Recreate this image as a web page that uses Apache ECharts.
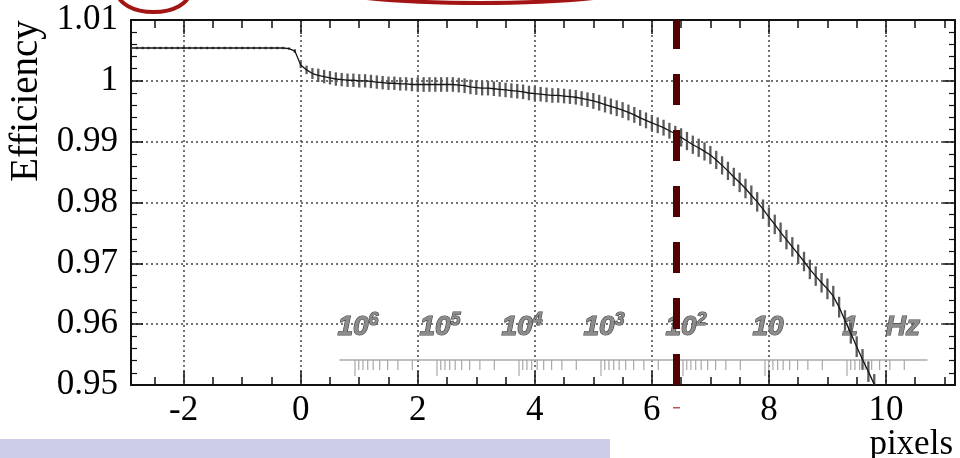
<!DOCTYPE html>
<html><head><meta charset="utf-8">
<script src="https://cdn.jsdelivr.net/npm/echarts@6/dist/echarts.min.js"></script>
<style>html,body{margin:0;padding:0;background:#fff}#c{width:960px;height:458px}</style>
</head><body><div id="c"></div>
<script>
// ---- data ----
const xs = [-2.9,-2.8,-2.7,-2.6,-2.5,-2.4,-2.3,-2.2,-2.1,-2.0,-1.9,-1.8,-1.7,-1.6,-1.5,-1.4,-1.3,-1.2,-1.1,-1.0,-0.9,-0.8,-0.7,-0.6,-0.5,-0.4,-0.3,-0.2,-0.1,
0.0,0.1,0.2,0.3,0.4,0.5,0.6,0.7,0.8,0.9,1.0,1.1,1.2,1.3,1.4,1.5,1.6,1.7,1.8,1.9,
2.0,2.1,2.2,2.3,2.4,2.5,2.6,2.7,2.8,2.9,3.0,3.1,3.2,3.3,3.4,3.5,3.6,3.7,3.8,3.9,
4.0,4.1,4.2,4.3,4.4,4.5,4.6,4.7,4.8,4.9,5.0,5.1,5.2,5.3,5.4,5.5,5.6,5.7,5.8,5.9,
6.0,6.1,6.2,6.3,6.4,6.5,6.6,6.7,6.8,6.9,7.0,7.1,7.2,7.3,7.4,7.5,7.6,7.7,7.8,7.9,
8.0,8.1,8.2,8.3,8.4,8.5,8.6,8.7,8.8,8.9,9.0,9.1,9.2,9.3,9.4,9.5,9.6,9.7,9.8,9.9];
const eff = [1.0054,1.0054,1.0054,1.0054,1.0054,1.0054,1.0054,1.0054,1.0054,1.0054,1.0054,1.0054,1.0054,1.0054,1.0054,1.0054,1.0054,1.0054,1.0054,1.0054,1.0054,1.0054,1.0054,1.0054,1.0054,1.0054,1.0054,1.0053,1.0049,
1.0026,1.0018,1.0012,1.0009,1.0007,1.0005,1.0003,1.0002,1.0001,1.0001,1.0000,1.0000,0.9999,0.9998,0.9997,0.9996,0.9996,0.9995,0.9995,0.9994,
0.9994,0.9994,0.9994,0.9994,0.9994,0.9994,0.9994,0.9993,0.9992,0.9990,0.9989,0.9988,0.9988,0.9987,0.9986,0.9985,0.9984,0.9983,0.9982,0.9980,
0.9979,0.9978,0.9977,0.9976,0.9976,0.9975,0.9974,0.9973,0.9971,0.9969,0.9967,0.9964,0.9961,0.9958,0.9955,0.9952,0.9948,0.9944,0.9939,0.9935,
0.9931,0.9927,0.9923,0.9918,0.9913,0.9907,0.9901,0.9895,0.9890,0.9884,0.9878,0.9870,0.9861,0.9852,0.9842,0.9833,0.9823,0.9812,0.9801,0.9789,
0.9776,0.9764,0.9751,0.9739,0.9727,0.9715,0.9703,0.9690,0.9679,0.9668,0.9658,0.9646,0.9628,0.9606,0.9585,0.9563,0.9542,0.9522,0.9501,0.9480];
const err = [0.0002,0.0002,0.0002,0.0002,0.0002,0.0002,0.0002,0.0002,0.0002,0.0002,0.0002,0.0002,0.0002,0.0002,0.0002,0.0002,0.0002,0.0002,0.0002,0.0002,0.0002,0.0002,0.0002,0.0002,0.0002,0.0002,0.0002,0.0002,0.0003,
0.0005,0.0007,0.0009,0.0011,0.0011,0.0011,0.0011,0.0011,0.0011,0.0011,0.0011,0.0011,0.0011,0.0011,0.0011,0.0011,0.0011,0.0011,0.0011,0.0011,
0.0012,0.0012,0.0012,0.0012,0.0012,0.0012,0.0012,0.0012,0.0012,0.0012,0.0012,0.0012,0.0012,0.0012,0.0012,0.0012,0.0012,0.0012,0.0012,0.0012,
0.0012,0.0012,0.0012,0.0012,0.0012,0.0012,0.0012,0.0012,0.0012,0.0012,0.0013,0.0013,0.0013,0.0013,0.0013,0.0013,0.0013,0.0013,0.0013,0.0013,
0.0013,0.0013,0.0013,0.0013,0.0013,0.0015,0.0015,0.0015,0.0015,0.0015,0.0015,0.0015,0.0015,0.0015,0.0015,0.0016,0.0016,0.0016,0.0016,0.0016,
0.0016,0.0016,0.0016,0.0016,0.0016,0.0016,0.0016,0.0016,0.0016,0.0016,0.0017,0.0017,0.0017,0.0017,0.0017,0.0017,0.0017,0.0017,0.0017,0.0017];

const xMajorTicks = [-2,0,2,4,6,8,10];
const xMinorTicks = [-2.5,-1.5,-1,-0.5,0.5,1,1.5,2.5,3,3.5,4.5,5,5.5,6.5,7,7.5,8.5,9,9.5,10.5,11];
const cutX = 6.41;

// rate scale (Hz) annotation
const logMajor = [1e6,1e5,1e4,1e3,100,10,1];
const logDecades = [1e5,1e4,1e3,100,10,1,0.1];
const logMantissas = [2,3,4,5,6,7,8,9];
const logLabelFreqs = [1e6,1e5,1e4,1e3,100,10,1,0.226];
const logLabelTexts = ['{b|10}{s|6}','{b|10}{s|5}','{b|10}{s|4}','{b|10}{s|3}','{b|10}{s|2}','{b|10}','{b|1}','{b|Hz}'];
const logMin = 0.1057, logMax = 1.524e6;

// ---- build ----
const serif = '"Liberation Serif","Times New Roman",serif';
const tickData = logMajor.map(f => [f, 1]);
logDecades.forEach(d => logMantissas.forEach(m => {
  const f = m * d;
  if (f >= logMin && f <= logMax) tickData.push([f, 0]);
}));

const frame = {color:'#111', width:2};
function xAx(pos, ticks, len, extra) {
  return Object.assign({
    type:'value', gridIndex:0, min:-2.9, max:11.18, position:pos,
    axisLine:{show:true, onZero:false, lineStyle:frame},
    axisTick:{show:true, inside:true, length:len, customValues:ticks, lineStyle:{color:'#111', width:1.5}},
    axisLabel:{show:false}, splitLine:{show:false}
  }, extra || {});
}
function yAx(pos, extra) {
  return Object.assign({
    type:'value', gridIndex:0, min:0.95, max:1.01, interval:0.01, position:pos,
    axisLine:{show:true, onZero:false, lineStyle:frame},
    axisTick:{show:true, inside:true, length:12, lineStyle:{color:'#111', width:1.5}},
    minorTick:{show:true, splitNumber:5, length:6, lineStyle:{color:'#111', width:1.2}},
    axisLabel:{show:false}, splitLine:{show:false}
  }, extra || {});
}

const chart = echarts.init(document.getElementById('c'), null, {renderer:'canvas'});
chart.setOption({
  animation:false,
  backgroundColor:'#fff',
  grid:[
    {left:131, top:20, right:5, bottom:73, outerBoundsMode:'none'},
    {left:340, width:587, top:360, height:30, outerBoundsMode:'none'}
  ],
  xAxis:[
    xAx('bottom', xMajorTicks, 14, {
      axisLabel:{show:true, customValues:xMajorTicks, color:'#000', fontFamily:serif, fontSize:35, margin:8},
      splitLine:{show:true, lineStyle:{color:'#444', width:1.5, type:[2,3]}}
    }),
    xAx('bottom', xMinorTicks, 8, {axisLine:{show:false, onZero:false}}),
    xAx('top', xMajorTicks, 14),
    xAx('top', xMinorTicks, 8, {axisLine:{show:false, onZero:false}}),
    {type:'log', logBase:10, gridIndex:1, inverse:true, min:logMin, max:logMax, position:'top',
     axisLine:{show:true, onZero:false, lineStyle:{color:'#aaa', width:1.5}},
     axisTick:{show:false}, axisLabel:{show:false}, splitLine:{show:false}}
  ],
  yAxis:[
    yAx('left', {
      axisLabel:{show:true, color:'#000', fontFamily:serif, fontSize:35, margin:13},
      splitLine:{show:true, lineStyle:{color:'#444', width:1.5, type:[2,3]}}
    }),
    yAx('right'),
    {type:'value', gridIndex:1, min:0, max:1, show:false}
  ],
  series:[
    {
      type:'custom', name:'errors', xAxisIndex:0, yAxisIndex:0, clip:true, silent:true, z:2,
      data: xs.map((x, i) => [x, eff[i], err[i]]),
      encode:{x:0, y:1},
      renderItem(params, api) {
        const x = api.value(0), y = api.value(1), e = api.value(2);
        const a = api.coord([x, y - e]), b = api.coord([x, y + e]);
        return {type:'line', shape:{x1:a[0], y1:a[1], x2:b[0], y2:b[1]},
                style:{stroke:'#5c5c5c', lineWidth:2.3}};
      }
    },
    {
      type:'line', name:'efficiency', xAxisIndex:0, yAxisIndex:0, silent:true, z:3,
      data: xs.map((x, i) => [x, eff[i]]),
      symbol:'none', lineStyle:{color:'#151515', width:1.3},
      markLine:{
        silent:true, symbol:['none','none'], label:{show:false}, animation:false,
        lineStyle:{color:'#520000', width:7, type:[31,25]},
        emphasis:{disabled:true},
        data:[{xAxis:cutX}]
      }
    },
    {
      type:'custom', name:'rateTicks', xAxisIndex:4, yAxisIndex:2, silent:true, z:1,
      data: tickData,
      renderItem(params, api) {
        const p = api.coord([api.value(0), 1]);
        const len = api.value(1) === 1 ? 16 : 10;
        return {type:'line', shape:{x1:p[0], y1:p[1], x2:p[0], y2:p[1] + len},
                style:{stroke:'#a8a8a8', lineWidth:1.2}};
      }
    },
    {
      type:'custom', name:'rateLabels', xAxisIndex:4, yAxisIndex:2, silent:true, z:1,
      data: logLabelFreqs.map(f => [f, 1]),
      renderItem(params, api) {
        const p = api.coord([api.value(0), 1]);
        const tok = {fontFamily:'"Liberation Sans",Arial,sans-serif', fontWeight:'bold', fontStyle:'italic',
                     fill:'#8c8c8c', stroke:'#444', lineWidth:1.2};
        return {type:'text', x:p[0] + 3, y:p[1] - 33,
          style:{text:logLabelTexts[params.dataIndex], align:'center', verticalAlign:'middle',
            fill:'#8c8c8c', stroke:'#444', lineWidth:1.2,
            rich:{b:Object.assign({fontSize:28}, tok), s:Object.assign({fontSize:18, padding:[0,0,13,0]}, tok)}}};
      }
    }
  ],
  graphic:[
    {type:'rect', shape:{x:0, y:439, width:610, height:19}, style:{fill:'#cdcde9'}, z:-1, silent:true},
    {type:'ellipse', shape:{cx:153.5, cy:-8, rx:36, ry:20}, style:{fill:'none', stroke:'#a31515', lineWidth:4}, silent:true},
    {type:'ellipse', shape:{cx:480, cy:-21, rx:185, ry:24}, style:{fill:'none', stroke:'#a31515', lineWidth:4}, silent:true},
    {type:'rect', shape:{x:673, y:407, width:7, height:1.5}, style:{fill:'#b55'}, silent:true},
    {type:'text', x:953, y:445, silent:true,
     style:{text:'pixels', font:'35px "Liberation Serif"', fill:'#000', align:'right', verticalAlign:'middle'}},
    {type:'text', x:27, y:101, rotation:Math.PI/2, silent:true,
     style:{text:'Efficiency', font:'39px "Liberation Serif"', fill:'#000', align:'center', verticalAlign:'middle'}}
  ]
});
</script></body></html>
